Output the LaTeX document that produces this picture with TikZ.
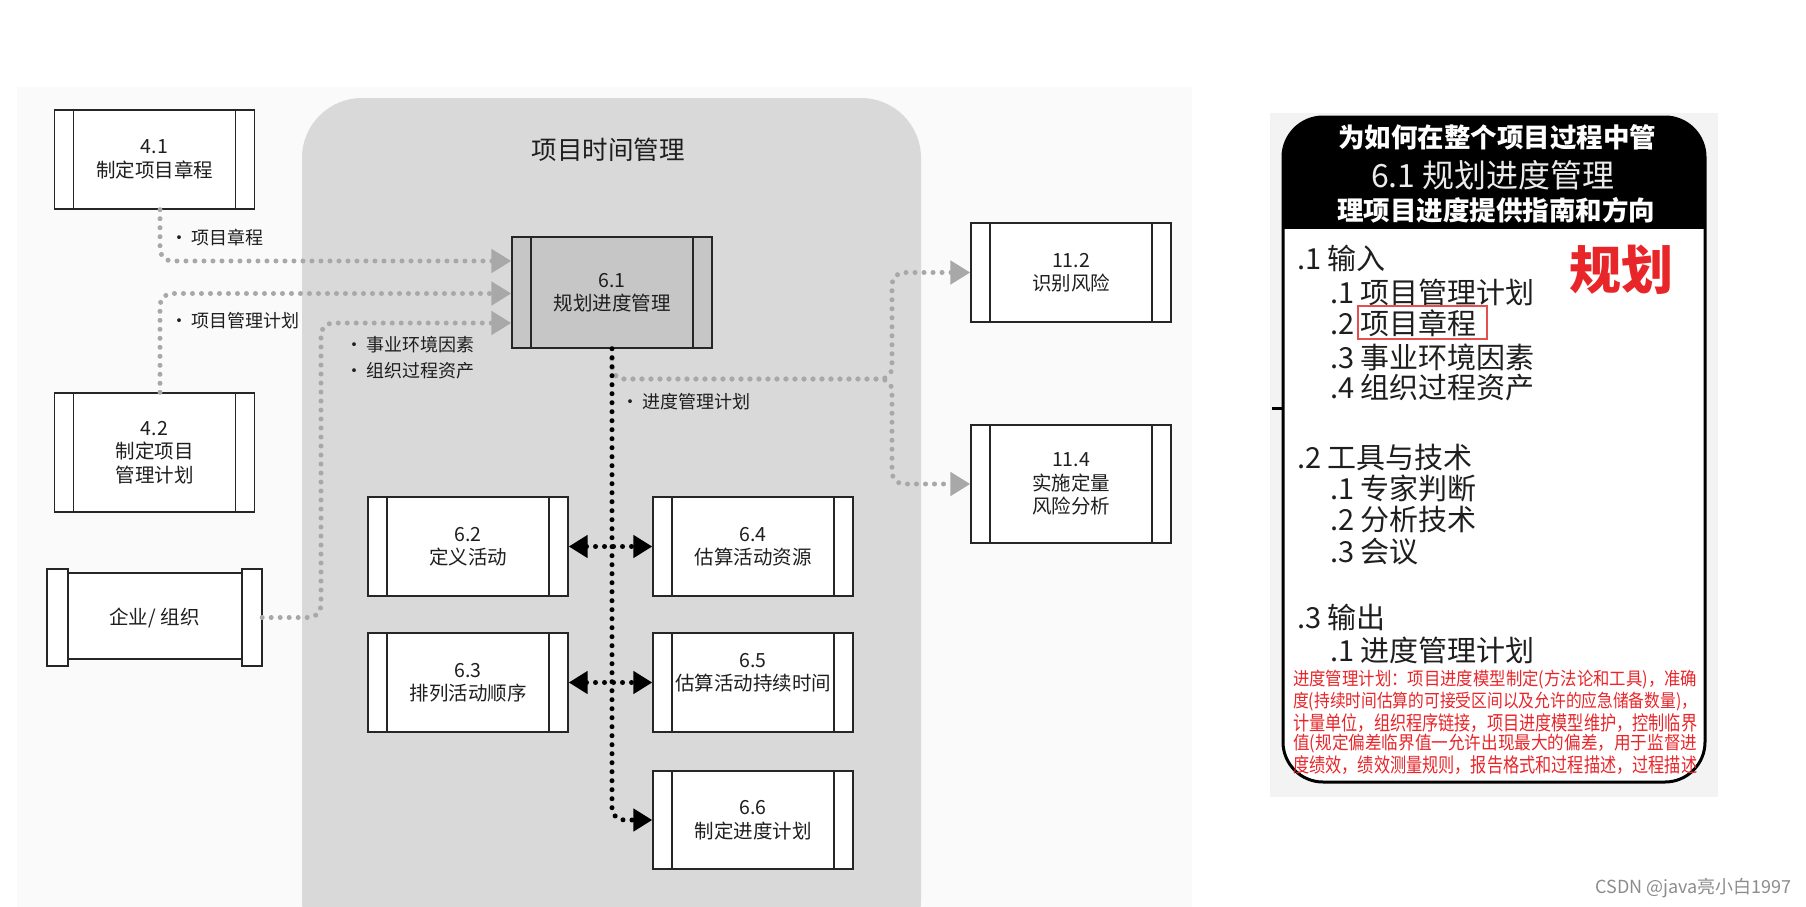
\documentclass[tikz,border=0pt]{standalone}
\usepackage{fontspec}
\setmainfont{Noto Sans CJK SC}
\usetikzlibrary{arrows.meta,calc}
\definecolor{panel}{HTML}{FAFAFA}
\definecolor{tmgray}{HTML}{D9D9D9}
\definecolor{boxgray}{HTML}{C6C6C6}
\definecolor{dotgray}{HTML}{A8A8A8}
\definecolor{txt}{HTML}{1E1E1E}
\definecolor{redtxt}{HTML}{E8262A}
\definecolor{redbox}{HTML}{E25050}
\definecolor{cardbg}{HTML}{F3F3F3}
\newcommand{\myredline}[1]{\resizebox*{404pt}{19pt}{\fontsize{18}{18}\selectfont #1}}
\tikzset{
 proc/.style={draw=black!85, line width=1.4pt, fill=white, minimum width=200pt, inner sep=0pt,
   align=center, text=txt, font={\fontsize{19.5}{23.5}\selectfont},
   path picture={\draw[line width=1.4pt, draw=black!85]
     ([xshift=19pt]path picture bounding box.north west) -- ([xshift=19pt]path picture bounding box.south west)
     ([xshift=-19pt]path picture bounding box.north east) -- ([xshift=-19pt]path picture bounding box.south east);}},
 gry/.style={draw=dotgray, line width=5pt, line cap=round, dash pattern=on 0pt off 9pt,
   rounded corners=12pt, -{Triangle[length=20pt,width=23pt]}},
 blk/.style={draw=black, line width=5pt, line cap=round, dash pattern=on 0pt off 9pt, rounded corners=12pt},
 btip/.tip={Triangle[length=19pt,width=22pt]},
 lbl/.style={anchor=west, inner sep=0pt, text=txt, font={\fontsize{18}{20}\selectfont}},
 cardtxt/.style={anchor=west, inner sep=0pt, text=txt, font={\fontsize{29}{30}\selectfont}},
 hdr/.style={text=white, inner sep=0pt, font={\fontsize{26.5}{28}\selectfont\bfseries}},
 redrow/.style={anchor=west, inner sep=0pt, text=redtxt},
}
\begin{document}
\begin{tikzpicture}[x=1pt,y=-1pt]
\useasboundingbox (0,0) rectangle (1806,907);
\fill[white] (0,0) rectangle (1806,907);
\fill[panel] (17,87) rectangle (1192,907);
\begin{scope}
\clip (0,0) rectangle (1806,907);
\fill[tmgray, rounded corners=60pt] (302,98) rectangle (921,960);
\end{scope}
\node[font={\fontsize{25.5}{28}\selectfont}, text=txt] (title) at (608,150) {项目时间管理};

% boxes
\node[proc, minimum height=99pt] (n41) at (154.5,159.5) {4.1\\制定项目章程};
\node[proc, minimum height=119pt] (n42) at (154.5,452.5) {4.2\\制定项目\\管理计划};
\node[proc, minimum height=111pt, fill=boxgray] (n61) at (612,292.5) {6.1\\规划进度管理};
\node[proc, minimum height=99pt] (n112) at (1071,272.5) {11.2\\识别风险};
\node[proc, minimum height=118pt] (n114) at (1071,484) {11.4\\实施定量\\风险分析};
\node[proc, minimum height=99pt] (n62) at (468,546.5) {6.2\\定义活动};
\node[proc, minimum height=99pt] (n64) at (753,546.5) {6.4\\估算活动资源};
\node[proc, minimum height=99pt] (n63) at (468,682.5) {6.3\\排列活动顺序};
\node[proc, minimum height=99pt] (n65) at (753,682.5) {6.5\\估算活动持续时间\\[-2pt]\phantom{x}};
\node[proc, minimum height=98pt] (n66) at (753,820) {6.6\\制定进度计划};

% enterprise scroll
\draw[line width=1.4pt, draw=black!85, fill=white] (68,573) rectangle (242,659);
\draw[line width=1.4pt, draw=black!85, fill=white] (47,569) rectangle (68,666);
\draw[line width=1.4pt, draw=black!85, fill=white] (242,569) rectangle (262,666);
\node[minimum width=215pt, minimum height=97pt, inner sep=0pt, text=txt,
  font={\fontsize{19.5}{24}\selectfont}] (org) at (154.5,617.5) {企业/ 组织};

% input connectors
\coordinate (t1) at ($(n61.west)+(0,-31.5)$);
\coordinate (t2) at ($(n61.west)+(0,1)$);
\coordinate (t3) at ($(n61.west)+(0,30.5)$);
\coordinate (b3) at (321,323);
\draw[gry] ($(n41.south)+(5.5,0)$) |- (t1);
\draw[gry] ($(n42.north)+(5.5,0)$) |- (t2);
\draw[gry] (org.east) -| (b3) -- (t3);
\node[lbl] (l1) at (170,238) {\textbullet\hspace{3pt}项目章程};
\node[lbl] (l2) at (170,321) {\textbullet\hspace{3pt}项目管理计划};
\node[lbl] (l3) at (345,345) {\textbullet\hspace{3pt}事业环境因素};
\node[lbl] (l4) at (345,371) {\textbullet\hspace{3pt}组织过程资产};

% output connectors
\coordinate (gs) at ($(n61.south)+(0,10)$);
\coordinate (j) at (892,379);
\draw[gry] (gs) |- (j) |- (n112.west);
\draw[gry] (gs) |- (j) |- (n114.west);
\node[lbl] (l5) at (621,402) {\textbullet\hspace{3pt}进度管理计划};

% black connectors
\draw[blk, -btip] (n61.south) |- (n66.west);
\draw[blk, btip-btip] (n62.east) -- (n64.west);
\draw[blk, btip-btip] (n63.east) -- (n65.west);

% right card
\fill[cardbg] (1270,113) rectangle (1718,797);
\fill[white, rounded corners=40pt] (1283,117) rectangle (1705,782);
\begin{scope}
\clip (1270,100) rectangle (1720,228);
\fill[black, rounded corners=40pt] (1283,117) rectangle (1705,400);
\end{scope}
\draw[line width=3pt, rounded corners=40pt] (1283,117) rectangle (1705,782);
\draw[line width=3pt] (1272,408) -- (1283,408);
\node[hdr] (h1) at (1497,137) {为如何在整个项目过程中管};
\node[text=white!92!black, inner sep=0pt, font={\fontsize{32}{34}\selectfont}] (h2) at (1493,175) {6.1 规划进度管理};
\node[hdr] (h3) at (1496,210) {理项目进度提供指南和方向};

\node[cardtxt] (c1) at (1297,258) {.1 输入};
\node[cardtxt] (c11) at (1330,292) {.1 项目管理计划};
\node[cardtxt] (c12) at (1330,323) {.2 项目章程};
\node[cardtxt] (c13) at (1330,357) {.3 事业环境因素};
\node[cardtxt] (c14) at (1330,388) {.4 组织过程资产};
\node[cardtxt] (c2) at (1297,457) {.2 工具与技术};
\node[cardtxt] (c21) at (1330,488) {.1 专家判断};
\node[cardtxt] (c22) at (1330,520) {.2 分析技术};
\node[cardtxt] (c23) at (1330,552) {.3 会议};
\node[cardtxt] (c3) at (1297,617) {.3 输出};
\node[cardtxt] (c31) at (1330,650) {.1 进度管理计划};
\draw[redbox, line width=2pt] (1358,306) rectangle (1487,339);
\node[text=redtxt, inner sep=0pt, font={\fontsize{52}{54}\selectfont\bfseries}] (gh) at (1621,270) {规划};

\node[redrow] (r1) at (1293,680) {\myredline{进度管理计划：项目进度模型制定(方法论和工具)，准确}};
\node[redrow] (r2) at (1293,702) {\myredline{度(持续时间估算的可接受区间以及允许的应急储备数量)，}};
\node[redrow] (r3) at (1293,723) {\myredline{计量单位，组织程序链接，项目进度模型维护，控制临界}};
\node[redrow] (r4) at (1293,744) {\myredline{值(规定偏差临界值一允许出现最大的偏差，用于监督进}};
\node[redrow] (r5) at (1293,765) {\myredline{度绩效，绩效测量规则，报告格式和过程描述，过程描述}};

\node[anchor=east, text=black!45, inner sep=0pt, font={\fontsize{18}{20}\selectfont}] (wm) at (1792,888) {CSDN @java亮小白1997};
\end{tikzpicture}
\end{document}
